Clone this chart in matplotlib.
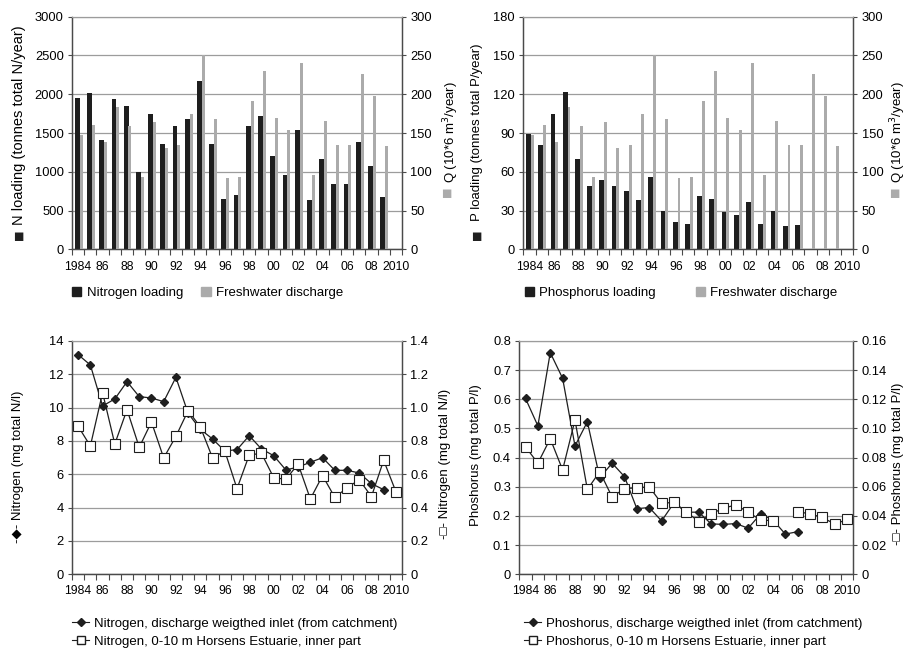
import numpy as np
import matplotlib
matplotlib.use('Agg')
import matplotlib.pyplot as plt
from matplotlib.patches import Patch
from matplotlib.lines import Line2D

plt.rcParams['font.family'] = ['Liberation Sans', 'DejaVu Sans']
plt.rcParams['font.size'] = 9

# ---- data ----
years = np.arange(1984, 2010)          # 1984..2009
years_all = np.arange(1984, 2011)      # 1984..2010

n_loading = [1950, 2020, 1410, 1940, 1850, 1000, 1740, 1360, 1590, 1680, 2170, 1360, 650,
             700, 1590, 1720, 1200, 960, 1540, 640, 1160, 850, 850, 1380, 1080, 670]
discharge = [147, 160, 138, 183, 159, 94, 164, 131, 134, 174, 250, 168, 92,
             94, 191, 230, 169, 154, 240, 96, 166, 135, 135, 226, 198, 133]
p_loading = [89, 81, 105, 122, 70, 49, 54, 49, 45, 38, 56, 30, 21,
             20, 41, 39, 29, 27, 37, 20, 30, 18, 19, np.nan, np.nan, np.nan]

n_inlet = [13.18, 12.56, 10.1, 10.52, 11.56, 10.66, 10.58, 10.36, 11.82, 9.66, 8.7, 8.12, 7.4,
           7.48, 8.32, 7.52, 7.12, 6.26, 6.44, 6.72, 7.0, 6.24, 6.24, 6.08, 5.44, 5.08, np.nan]
n_estuary = [0.888, 0.77, 1.09, 0.782, 0.988, 0.762, 0.914, 0.698, 0.828, 0.982, 0.884, 0.698, 0.74,
             0.514, 0.716, 0.726, 0.58, 0.57, 0.662, 0.452, 0.592, 0.462, 0.518, 0.568, 0.466, 0.684, 0.496]

p_inlet = [0.603, 0.509, 0.76, 0.672, 0.44, 0.523, 0.331, 0.381, 0.335, 0.225, 0.229, 0.183, 0.245,
           0.213, 0.213, 0.173, 0.171, 0.174, 0.158, 0.207, 0.186, 0.138, 0.146, np.nan, np.nan, np.nan, np.nan]
p_estuary = [0.0874, 0.0762, 0.093, 0.0716, 0.1058, 0.0582, 0.0704, 0.053, 0.0588, 0.0593, 0.06, 0.0486, 0.0494,
             0.0428, 0.0362, 0.0415, 0.0453, 0.0476, 0.0426, 0.0372, 0.0368, np.nan, 0.043, 0.0414, 0.039, 0.0344, 0.0376]

tick_years = list(range(1984, 2011, 2))
tick_labels = ['1984', '86', '88', '90', '92', '94', '96', '98', '00', '02', '04', '06', '08', '2010']

BLACK = '#1e1e1e'
GRAY = '#ababab'
GRID = '#9c9c9c'
SPINE = '#4a4a4a'
LABEL_FS = 9.5

fig = plt.figure(figsize=(9.06, 6.49), dpi=100)


def style_axes(ax, ax2, ylim, yticks, ylim2, yticks2, fmt=None, fmt2=None):
    ax.set_xlim(1983.5, 2010.5)
    ax.set_ylim(*ylim)
    ax.set_yticks(yticks)
    ax2.set_ylim(*ylim2)
    ax2.set_yticks(yticks2)
    if fmt:
        ax.set_yticklabels([fmt(v) for v in yticks])
    if fmt2:
        ax2.set_yticklabels([fmt2(v) for v in yticks2])
    ax.set_xticks(tick_years)
    ax.set_xticklabels(tick_labels, fontsize=8.7)
    ax.set_xticks(np.arange(1983.5, 2011, 1), minor=True)
    ax.tick_params(axis='x', which='major', length=0, pad=8)
    ax.tick_params(axis='x', which='minor', length=4, color=SPINE, width=0.8)
    ax.tick_params(axis='y', length=3, color=SPINE, width=0.8, pad=3, labelsize=9.3)
    ax2.tick_params(axis='y', length=3, color=SPINE, width=0.8, pad=3, labelsize=9.3)
    for a in (ax, ax2):
        a.spines['top'].set_color(GRID)
        for s in ('left', 'right', 'bottom'):
            a.spines[s].set_color(SPINE)
            a.spines[s].set_linewidth(0.9)
    ax.grid(axis='y', color=GRID, linewidth=0.9)
    ax.set_axisbelow(True)


def square(ax, x, y, color):
    ax.text(x, y, '■', color=color, rotation=90, ha='center', va='center',
            fontsize=8, family='DejaVu Sans', transform=ax.transAxes)


# ---- top left: nitrogen loading ----
ax1 = fig.add_axes([0.0795, 0.6156, 0.3642, 0.3587])
ax1b = ax1.twinx()
ax1.bar(years - 0.07, n_loading, width=0.4, color=BLACK, zorder=3)
ax1b.bar(years + 0.24, discharge, width=0.24, color=GRAY, zorder=3)
style_axes(ax1, ax1b, (0, 3000), range(0, 3001, 500), (0, 300), range(0, 301, 50))
ax1.set_ylabel('N loading (tonnes total N/year)', fontsize=10.5)
ax1.yaxis.set_label_coords(-0.14, 0.535)
square(ax1, -0.162, 0.062, BLACK)
ax1b.set_ylabel('Q (10*6 m$^3$/year)', fontsize=LABEL_FS)
ax1b.yaxis.set_label_coords(1.118, 0.505)
square(ax1b, 1.136, 0.247, GRAY)
ax1.legend(handles=[Patch(color=BLACK, label='Nitrogen loading'),
                    Patch(color=GRAY, label='Freshwater discharge')],
           loc='upper left', bbox_to_anchor=(0.0, -0.16), ncol=2, frameon=False,
           handlelength=0.7, handleheight=0.7, handletextpad=0.4, columnspacing=1.4,
           borderpad=0, borderaxespad=0, fontsize=LABEL_FS)

# ---- top right: phosphorus loading ----
ax2 = fig.add_axes([0.5776, 0.6156, 0.3642, 0.3587])
ax2b = ax2.twinx()
ax2.bar(years - 0.07, p_loading, width=0.4, color=BLACK, zorder=3)
ax2b.bar(years + 0.24, discharge, width=0.24, color=GRAY, zorder=3)
style_axes(ax2, ax2b, (0, 180), range(0, 181, 30), (0, 300), range(0, 301, 50))
ax2.set_ylabel('P loading (tonnes total P/year)', fontsize=LABEL_FS)
ax2.yaxis.set_label_coords(-0.123, 0.503)
square(ax2, -0.141, 0.062, BLACK)
ax2b.set_ylabel('Q (10*6 m$^3$/year)', fontsize=LABEL_FS)
ax2b.yaxis.set_label_coords(1.106, 0.505)
square(ax2b, 1.125, 0.247, GRAY)
ax2.legend(handles=[Patch(color=BLACK, label='Phosphorus loading'),
                    Patch(color=GRAY, label='Freshwater discharge')],
           loc='upper left', bbox_to_anchor=(0.005, -0.16), ncol=2, frameon=False,
           handlelength=0.7, handleheight=0.7, handletextpad=0.4, columnspacing=3.0,
           borderpad=0, borderaxespad=0, fontsize=LABEL_FS)

# ---- bottom left: nitrogen concentration ----
ax3 = fig.add_axes([0.0795, 0.1151, 0.3642, 0.3595])
ax3b = ax3.twinx()
ax3.plot(years_all, n_inlet, color=BLACK, linewidth=0.9, marker='D', markersize=4.2)
ax3b.plot(years_all, n_estuary, color=BLACK, linewidth=0.9, marker='s', markersize=6.5,
          markerfacecolor='white', markeredgecolor=BLACK, markeredgewidth=0.8)
style_axes(ax3, ax3b, (0, 14), range(0, 15, 2), (0, 1.4), np.arange(0, 1.41, 0.2),
           fmt2=lambda v: '0' if v == 0 else f'{v:.1f}')
ax3.set_ylabel('-◆- Nitrogen (mg total N/l)', fontsize=LABEL_FS)
ax3.yaxis.set_label_coords(-0.145, 0.461)
ax3b.set_ylabel('-□- Nitrogen (mg total N/l)', fontsize=LABEL_FS)
ax3b.yaxis.set_label_coords(1.112, 0.473)
ax3.legend(handles=[Line2D([], [], color=BLACK, lw=0.8, marker='D', markersize=4,
                           label='Nitrogen, discharge weigthed inlet (from catchment)'),
                    Line2D([], [], color=BLACK, lw=0.8, marker='s', markersize=6,
                           markerfacecolor='white', label='Nitrogen, 0-10 m Horsens Estuarie, inner part')],
           loc='upper left', bbox_to_anchor=(0.0, -0.185), frameon=False, numpoints=1,
           handlelength=1.3, handletextpad=0.35, labelspacing=0.45,
           borderpad=0, borderaxespad=0, fontsize=LABEL_FS)

# ---- bottom right: phosphorus concentration ----
ax4 = fig.add_axes([0.5732, 0.1151, 0.3687, 0.3595])
ax4b = ax4.twinx()
ax4.plot(years_all, p_inlet, color=BLACK, linewidth=0.9, marker='D', markersize=4.2)
ax4b.plot(years_all, p_estuary, color=BLACK, linewidth=0.9, marker='s', markersize=6.5,
          markerfacecolor='white', markeredgecolor=BLACK, markeredgewidth=0.8)
style_axes(ax4, ax4b, (0, 0.8), np.arange(0, 0.81, 0.1), (0, 0.16), np.arange(0, 0.161, 0.02),
           fmt=lambda v: '0' if v == 0 else f'{v:.1f}',
           fmt2=lambda v: '0' if v == 0 else f'{v:.2f}')
ax4.set_ylabel('Phoshorus (mg total P/l)', fontsize=LABEL_FS)
ax4.yaxis.set_label_coords(-0.112, 0.511)
ax4b.set_ylabel('-□- Phoshorus (mg total P/l)', fontsize=LABEL_FS)
ax4b.yaxis.set_label_coords(1.117, 0.473)
ax4.legend(handles=[Line2D([], [], color=BLACK, lw=0.8, marker='D', markersize=4,
                           label='Phoshorus, discharge weigthed inlet (from catchment)'),
                    Line2D([], [], color=BLACK, lw=0.8, marker='s', markersize=6,
                           markerfacecolor='white', label='Phoshorus, 0-10 m Horsens Estuarie, inner part')],
           loc='upper left', bbox_to_anchor=(0.014, -0.185), frameon=False, numpoints=1,
           handlelength=1.3, handletextpad=0.35, labelspacing=0.45,
           borderpad=0, borderaxespad=0, fontsize=LABEL_FS)

fig.savefig('out.png', dpi=100)
